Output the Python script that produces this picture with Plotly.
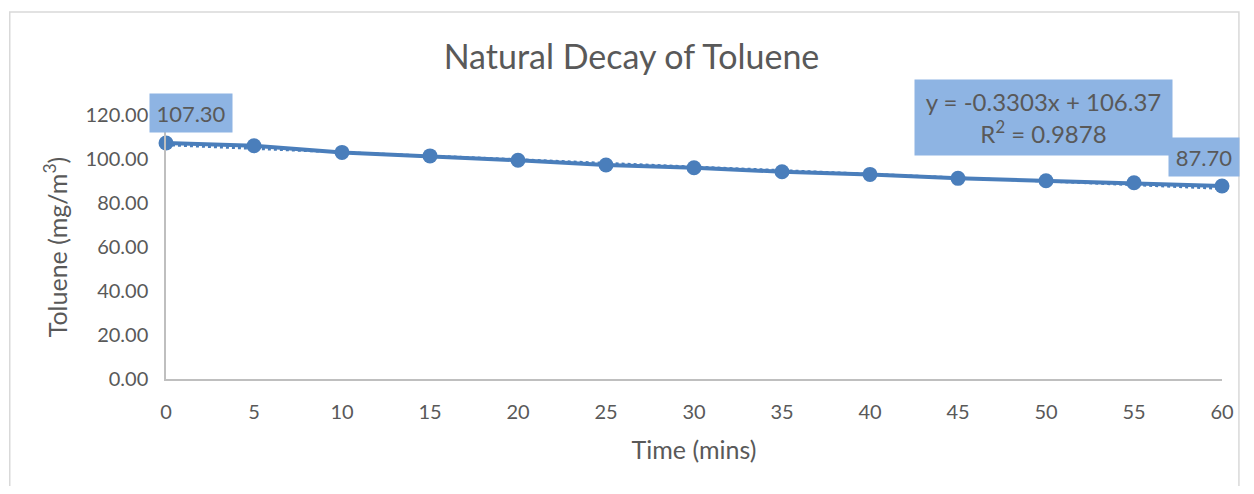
import plotly.graph_objects as go

time_mins = [0, 5, 10, 15, 20, 25, 30, 35, 40, 45, 50, 55, 60]
toluene = [107.30, 106.0, 103.0, 101.4, 99.4, 97.3, 96.0, 94.2, 93.0, 91.2, 90.1, 89.2, 87.70]
trend_slope = -0.3303
trend_intercept = 106.37
trend_r2 = 0.9878
y_ticks = [0, 20, 40, 60, 80, 100, 120]
y_ticklabels = ["0.00", "20.00", "40.00", "60.00", "80.00", "100.00", "120.00"]
x_ticks = time_mins

FONT = "Lato"
GREY = "#595959"
BLUE = "#4A7EBB"
BOX = "#8EB4E3"

OFF = 8  # page body margin
W, H = 1238, 478
L, R, T, B = 166 - OFF, 1238 - (1227 - OFF), 115 - OFF, 478 - (379 - OFF)
pw, ph = W - L - R, H - T - B

def px_to_paper(px, py):
    # px, py are reference-image pixel coordinates
    fx, fy = px - OFF, py - OFF
    return (fx - L) / pw, (H - B - fy) / ph

trend_x = [time_mins[0], time_mins[-1]]
trend_y = [trend_slope * v + trend_intercept for v in trend_x]

fig = go.Figure()
fig.add_trace(go.Scatter(x=trend_x, y=trend_y, mode="lines",
                         line=dict(color=BLUE, width=2.5, dash="dot"),
                         showlegend=False, hoverinfo="skip", cliponaxis=False))
fig.add_trace(go.Scatter(x=time_mins, y=toluene, mode="lines+markers",
                         line=dict(color=BLUE, width=4),
                         marker=dict(color=BLUE, size=15),
                         showlegend=False, cliponaxis=False))

# border
bx0, by0 = px_to_paper(9, 494)
bx1, by1 = px_to_paper(1244, 12)
fig.add_shape(type="rect", xref="paper", yref="paper", x0=bx0, y0=by0, x1=bx1, y1=by1,
              line=dict(color="#D9D9D9", width=1.5), layer="below")

def box_ann(text, cx, cy, w, h, size=22):
    ax, ay = px_to_paper(cx, cy)
    fig.add_annotation(xref="paper", yref="paper", x=ax, y=ay, text=text,
                       showarrow=False, xanchor="center", yanchor="middle",
                       bgcolor=BOX, width=w, height=h, borderpad=0, align="center",
                       font=dict(family=FONT, size=size, color=GREY))

box_ann(f"{toluene[0]:.2f}", 191, 113, 82, 38)
box_ann(f"y = {trend_slope:.4f}x + {trend_intercept:.2f}<br>R<sup>2</sup> = {trend_r2:.4f}",
        1047.5, 117.5, 257, 75, size=24)
box_ann(f"{toluene[-1]:.2f}", 1209, 157, 70, 38)

fig.update_layout(
    width=W, height=H,
    margin=dict(l=L, r=R, t=T, b=B),
    paper_bgcolor="white", plot_bgcolor="white",
    font=dict(family=FONT, color=GREY),
    title=dict(text="Natural Decay of Toluene", x=(631.5 - OFF) / W, xanchor="center",
               y=1 - (57 - OFF) / H, yanchor="middle",
               font=dict(family=FONT, size=34, color=GREY)),
    xaxis=dict(range=[0, 60], tickvals=x_ticks, ticks="", showgrid=False, zeroline=False,
               showline=True, linecolor="#BFBFBF", linewidth=1.5,
               tickfont=dict(size=20, color=GREY), ticklabelstandoff=14,
               title=dict(text="Time (mins)", font=dict(size=25, color=GREY), standoff=20)),
    yaxis=dict(range=[0, 120], tickvals=y_ticks, ticktext=y_ticklabels, ticks="",
               showgrid=False, zeroline=False, showline=True, linecolor="#BFBFBF", linewidth=1.5,
               tickfont=dict(size=20, color=GREY), ticklabelstandoff=12,
               title=dict(text="Toluene (mg/m<sup>3</sup>)", font=dict(size=25, color=GREY), standoff=11)),
)

fig.write_html("out.html")
